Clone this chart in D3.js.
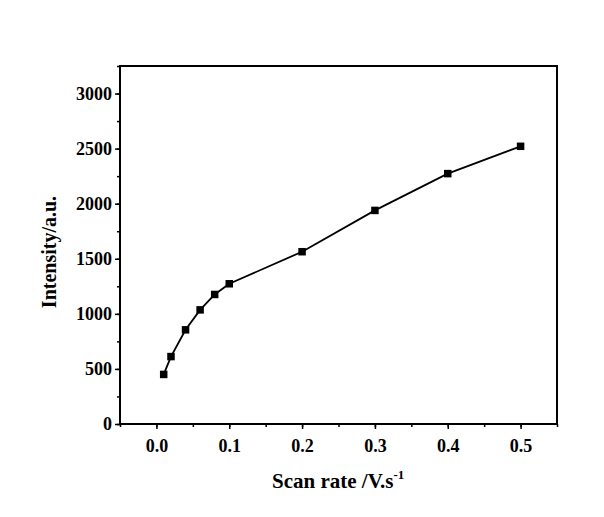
<!DOCTYPE html>
<html>
<head>
<meta charset="utf-8">
<script src="https://cdn.jsdelivr.net/npm/d3@7"></script>
<style>
  body { margin: 0; background: #fff; }
  svg { display: block; }
</style>
</head>
<body>
<script>
// scan rate (V/s) and peak intensity
var scanRate = [0.01, 0.02, 0.04, 0.06, 0.08, 0.1, 0.2, 0.3, 0.4, 0.5];
var intensity = [450, 612, 855, 1036, 1176, 1273, 1564, 1939, 2273, 2521];
var xTicks = [0.0, 0.1, 0.2, 0.3, 0.4, 0.5];
var yTicks = [0, 500, 1000, 1500, 2000, 2500, 3000];

var W = 604, H = 517;
var plotL = 120, plotR = 557, plotT = 66, plotB = 424;
var font = "'Liberation Serif', 'Times New Roman', serif";

var svg = d3.select("body").append("svg").attr("width", W).attr("height", H);

var x = d3.scaleLinear().domain([-0.05, 0.55]).range([plotL, plotR]);
var y = d3.scaleLinear().domain([0, 3250]).range([plotB, plotT]);

/**
 * Minor ticks first, then the major ones with labels.
 */
var xMinor = d3.axisBottom(x).tickValues(d3.range(-0.05, 0.551, 0.05)).tickSize(3).tickFormat("");
var yMinor = d3.axisLeft(y).tickValues(d3.range(0, 3251, 250)).tickSize(3).tickFormat("");

svg.append("g").attr("transform", "translate(0," + plotB + ")").call(xMinor);
svg.append("g").attr("transform", "translate(" + plotL + ",0)").call(yMinor);

svg.append("g").attr("transform", "translate(0," + plotB + ")")
    .call(d3.axisBottom(x).tickValues(xTicks).tickSize(5).tickPadding(10).tickFormat(d3.format(".1f")));
svg.append("g").attr("transform", "translate(" + plotL + ",0)")
    .call(d3.axisLeft(y).tickValues(yTicks).tickSize(5).tickPadding(3).tickFormat(d3.format("d")));

svg.selectAll(".domain").remove();
svg.selectAll(".tick line").attr("stroke", "#000").attr("stroke-width", 1.5);
svg.selectAll(".tick text")
    .attr("fill", "#000")
    .style("font-family", font).style("font-weight", "bold").style("font-size", "18px");

// frame around the plot
svg.append("rect")
    .attr("x", plotL).attr("y", plotT)
    .attr("width", plotR - plotL).attr("height", plotB - plotT)
    .attr("fill", "none").attr("stroke", "#000").attr("stroke-width", 2);

// the data line and square markers
var pts = scanRate.map(function (d, i) { return [d, intensity[i]]; });
svg.append("path")
    .datum(pts)
    .attr("fill", "none").attr("stroke", "#000").attr("stroke-width", 1.8)
    .attr("d", d3.line().x(function (d) { return x(d[0]); }).y(function (d) { return y(d[1]); }));

var s = 7.5;
svg.selectAll("rect.pt").data(pts).enter().append("rect")
    .attr("class", "pt")
    .attr("x", function (d) { return x(d[0]) - s / 2; })
    .attr("y", function (d) { return y(d[1]) - s / 2; })
    .attr("width", s).attr("height", s)
    .attr("fill", "#000");

// axis titles
var xl = svg.append("text")
    .attr("x", 272).attr("y", 488)
    .style("font-family", font).style("font-weight", "bold").style("font-size", "21px");
xl.append("tspan").text("Scan rate /V.s");
xl.append("tspan").attr("dy", -9).style("font-size", "13px").text("-1");

svg.append("text")
    .attr("transform", "translate(56,252) rotate(-90)")
    .attr("text-anchor", "middle")
    .style("font-family", font).style("font-weight", "bold").style("font-size", "20px")
    .text("Intensity/a.u.");
</script>
</body>
</html>
